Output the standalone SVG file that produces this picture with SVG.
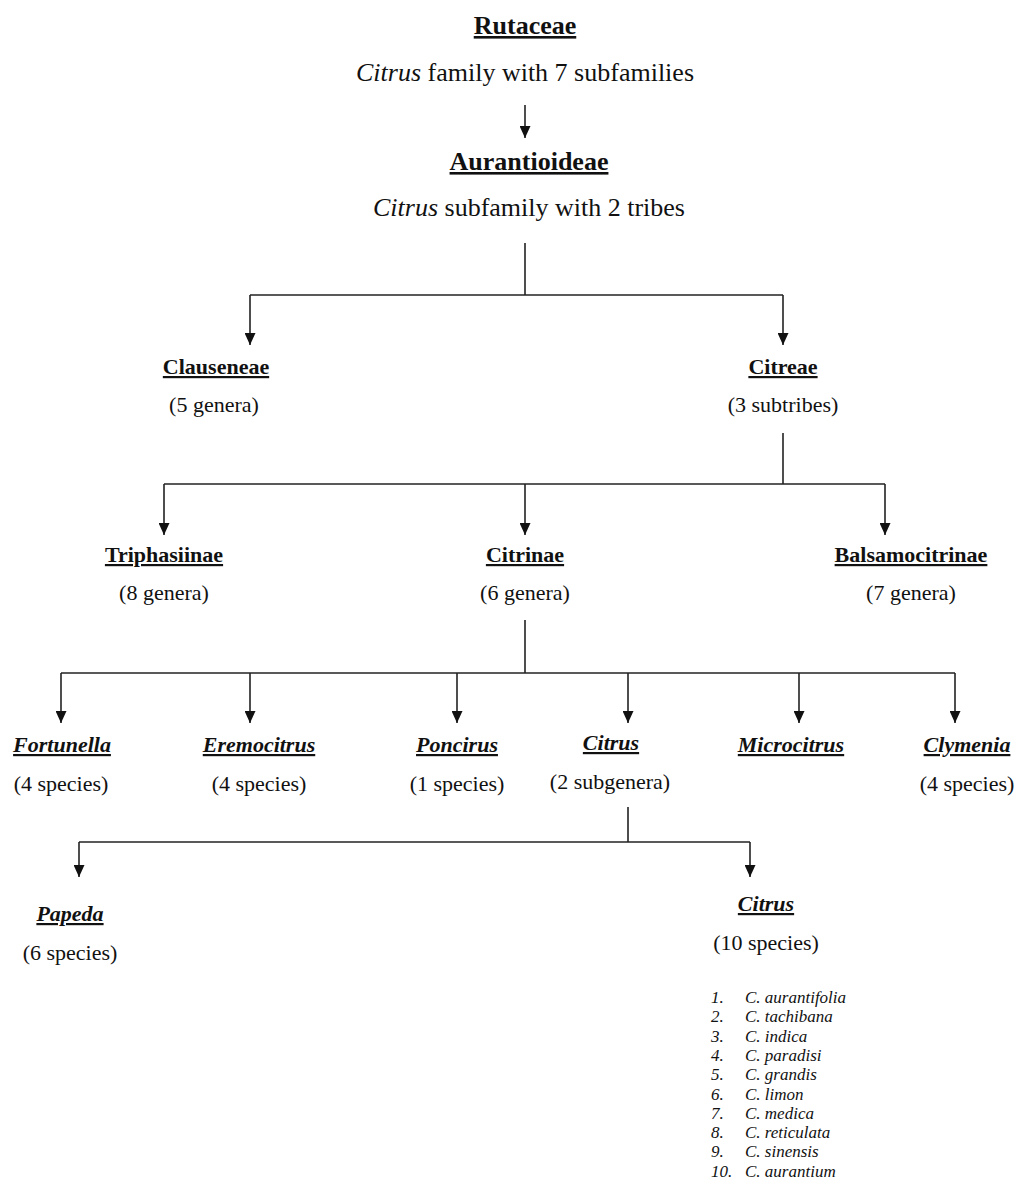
<svg xmlns="http://www.w3.org/2000/svg" width="1018" height="1182" viewBox="0 0 1018 1182">
<style>
text{font-family:"Liberation Serif","Times New Roman",serif;fill:#111;text-anchor:middle}
.title{font-size:26px;font-weight:bold;text-decoration:underline}
.desc{font-size:26px}
.head{font-size:22px;font-weight:bold;text-decoration:underline}
.ihead{font-size:22px;font-weight:bold;font-style:italic;text-decoration:underline}
.sub{font-size:22px}
.list{font-size:17px;font-style:italic;text-anchor:start}
.conn path{fill:none;stroke:#222;stroke-width:1.6}
</style>
<defs>
<marker id="ah" viewBox="0 0 12 11" refX="12" refY="5.5" markerWidth="12" markerHeight="11" markerUnits="userSpaceOnUse" orient="auto">
<path d="M0,0 L12,5.5 L0,11 z" fill="#111"/>
</marker>
</defs>
<rect width="1018" height="1182" fill="#fff"/>
<g id="connectors" class="conn">
<path d="M525,105 V138" marker-end="url(#ah)"/>
<path d="M525,243 V295"/>
<path d="M250,295 H783"/>
<path d="M250,295 V345" marker-end="url(#ah)"/>
<path d="M783,295 V345" marker-end="url(#ah)"/>
<path d="M783,433 V484"/>
<path d="M164,484 H885"/>
<path d="M164,484 V535" marker-end="url(#ah)"/>
<path d="M525,484 V535" marker-end="url(#ah)"/>
<path d="M885,484 V535" marker-end="url(#ah)"/>
<path d="M525,620 V673"/>
<path d="M61,673 H955"/>
<path d="M61,673 V723" marker-end="url(#ah)"/>
<path d="M250,673 V723" marker-end="url(#ah)"/>
<path d="M457,673 V723" marker-end="url(#ah)"/>
<path d="M628,673 V723" marker-end="url(#ah)"/>
<path d="M799,673 V723" marker-end="url(#ah)"/>
<path d="M955,673 V723" marker-end="url(#ah)"/>
<path d="M628,807 V842"/>
<path d="M79,842 H750"/>
<path d="M79,842 V877" marker-end="url(#ah)"/>
<path d="M750,842 V877" marker-end="url(#ah)"/>
</g>
<g id="rutaceae">
<text class="title" x="525" y="34">Rutaceae</text>
<text class="desc" x="525" y="81"><tspan font-style="italic">Citrus</tspan> family with 7 subfamilies</text>
</g>
<g id="aurantioideae">
<text class="title" x="529" y="170">Aurantioideae</text>
<text class="desc" x="529" y="216"><tspan font-style="italic">Citrus</tspan> subfamily with 2 tribes</text>
</g>
<g id="clauseneae">
<text class="head" x="216" y="374">Clauseneae</text>
<text class="sub" x="214" y="412">(5 genera)</text>
</g>
<g id="citreae">
<text class="head" x="783" y="374">Citreae</text>
<text class="sub" x="783" y="412">(3 subtribes)</text>
</g>
<g id="triphasiinae">
<text class="head" x="164" y="562">Triphasiinae</text>
<text class="sub" x="164" y="600">(8 genera)</text>
</g>
<g id="citrinae">
<text class="head" x="525" y="562">Citrinae</text>
<text class="sub" x="525" y="600">(6 genera)</text>
</g>
<g id="balsamocitrinae">
<text class="head" x="911" y="562">Balsamocitrinae</text>
<text class="sub" x="911" y="600">(7 genera)</text>
</g>
<g id="fortunella">
<text class="ihead" x="62" y="752">Fortunella</text>
<text class="sub" x="61" y="791">(4 species)</text>
</g>
<g id="eremocitrus">
<text class="ihead" x="259" y="752">Eremocitrus</text>
<text class="sub" x="259" y="791">(4 species)</text>
</g>
<g id="poncirus">
<text class="ihead" x="457" y="752">Poncirus</text>
<text class="sub" x="457" y="791">(1 species)</text>
</g>
<g id="citrus-genus">
<text class="ihead" x="611" y="750">Citrus</text>
<text class="sub" x="610" y="789">(2 subgenera)</text>
</g>
<g id="microcitrus">
<text class="ihead" x="791" y="752">Microcitrus</text>
</g>
<g id="clymenia">
<text class="ihead" x="967" y="752">Clymenia</text>
<text class="sub" x="967" y="791">(4 species)</text>
</g>
<g id="papeda">
<text class="ihead" x="70" y="921">Papeda</text>
<text class="sub" x="70" y="960">(6 species)</text>
</g>
<g id="citrus-subgenus">
<text class="ihead" x="766" y="911">Citrus</text>
<text class="sub" x="766" y="950">(10 species)</text>
<text class="list" x="711" y="1003">1.</text><text class="list" x="745" y="1003">C. aurantifolia</text>
<text class="list" x="711" y="1022.3">2.</text><text class="list" x="745" y="1022.3">C. tachibana</text>
<text class="list" x="711" y="1041.6">3.</text><text class="list" x="745" y="1041.6">C. indica</text>
<text class="list" x="711" y="1060.9">4.</text><text class="list" x="745" y="1060.9">C. paradisi</text>
<text class="list" x="711" y="1080.2">5.</text><text class="list" x="745" y="1080.2">C. grandis</text>
<text class="list" x="711" y="1099.5">6.</text><text class="list" x="745" y="1099.5">C. limon</text>
<text class="list" x="711" y="1118.8">7.</text><text class="list" x="745" y="1118.8">C. medica</text>
<text class="list" x="711" y="1138.1">8.</text><text class="list" x="745" y="1138.1">C. reticulata</text>
<text class="list" x="711" y="1157.4">9.</text><text class="list" x="745" y="1157.4">C. sinensis</text>
<text class="list" x="711" y="1176.7">10.</text><text class="list" x="745" y="1176.7">C. aurantium</text>
</g>
</svg>
